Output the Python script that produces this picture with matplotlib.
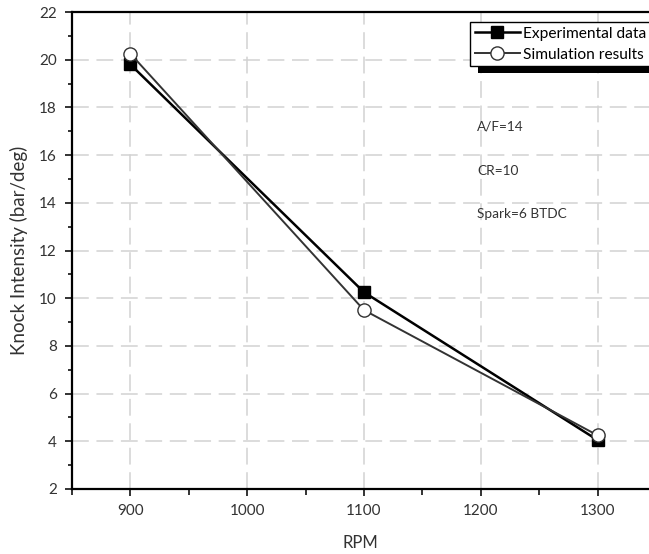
import matplotlib

matplotlib.use('Agg')

import matplotlib.pyplot as plt
from matplotlib.patches import Rectangle
from matplotlib.ticker import MultipleLocator

plt.rcParams.update({
    'font.family': ['Lato', 'DejaVu Sans'],
    'font.size': 11,
    'axes.linewidth': 1.6,
    'xtick.major.width': 1.4,
    'ytick.major.width': 1.4,
    'xtick.minor.width': 1.4,
    'ytick.minor.width': 1.4,
    'xtick.major.size': 5,
    'ytick.major.size': 5,
    'xtick.minor.size': 4,
    'ytick.minor.size': 3,
    'xtick.labelsize': 11,
    'ytick.labelsize': 11,
})

rpm = [900, 1100, 1300]
experimental = [19.8, 10.25, 4.05]
simulation = [20.25, 9.5, 4.25]
notes = ['A/F=14', 'CR=10', 'Spark=6 BTDC']
note_y = [17.2, 15.35, 13.55]

fig = plt.figure(figsize=(6.49, 5.54), dpi=100)
ax = fig.add_axes([72 / 649, 65 / 554, 1 - 72 / 649, (489 - 12) / 554])

ax.plot(rpm, experimental, color='black', linewidth=1.8, marker='s',
        markersize=9, markerfacecolor='black', markeredgecolor='black',
        label='Experimental data', zorder=3)
ax.plot(rpm, simulation, color='#333333', linewidth=1.4, marker='o',
        markersize=9.5, markerfacecolor='white', markeredgecolor='#333333',
        markeredgewidth=1.0, label='Simulation results', zorder=4)

ax.set_xlim(850, 1344)
ax.set_ylim(2, 22)
ax.xaxis.set_major_locator(MultipleLocator(100))
ax.xaxis.set_minor_locator(MultipleLocator(50))
ax.yaxis.set_major_locator(MultipleLocator(2))
ax.yaxis.set_minor_locator(MultipleLocator(1))
ax.spines['right'].set_visible(False)

ax.grid(True, which='major', color='#d2d2d2', linestyle=(0, (11, 5)), linewidth=1.1)
ax.set_axisbelow(True)

ax.set_xlabel('RPM', labelpad=12, color='#333333', fontsize=12)
ax.set_ylabel('Knock Intensity (bar/deg)', labelpad=8, color='#333333', fontsize=13.5)
ax.tick_params(colors='#333333', which='both')
ax.tick_params(axis='both', labelcolor='#333333', pad=6)

for txt, y in zip(notes, note_y):
    ax.text(1197, y, txt, fontsize=9.8, color='#333333', va='center')

leg = ax.legend(loc='upper left', bbox_to_anchor=(470 / 649, 1 - 22 / 554),
                bbox_transform=fig.transFigure, frameon=True, fancybox=False,
                edgecolor='black', framealpha=1, handlelength=2.9,
                handletextpad=0.2, borderpad=0.3, labelspacing=0.45,
                borderaxespad=0, fontsize=11.2)
leg.get_frame().set_linewidth(1.0)
leg.set_zorder(10)

# solid black drop shadow under the legend box
fig.canvas.draw()
bb = leg.get_window_extent().transformed(fig.transFigure.inverted())
shadow = Rectangle((bb.x0 + 8 / 649, bb.y0 - 7 / 554), bb.width, bb.height,
                   transform=fig.transFigure, facecolor='black',
                   edgecolor='none', zorder=9)
ax.add_artist(shadow)
shadow.set_clip_on(False)

fig.savefig('out.png', dpi=100)
